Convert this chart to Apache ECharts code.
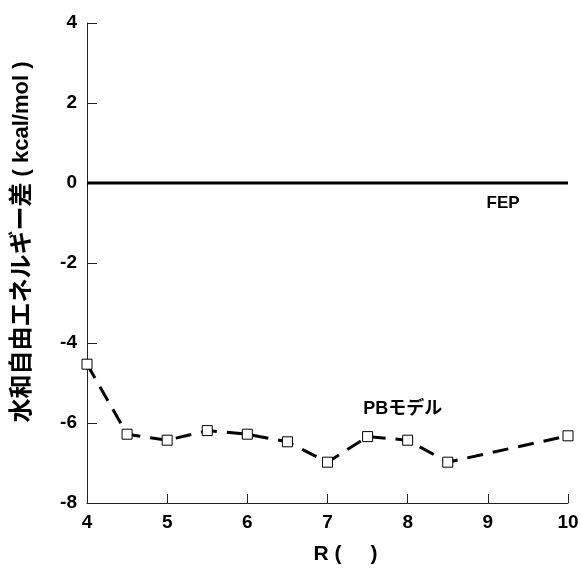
<!DOCTYPE html>
<html>
<head>
<meta charset="utf-8">
<script src="https://cdn.jsdelivr.net/npm/echarts@6/dist/echarts.min.js"></script>
<style>
  html, body { margin: 0; padding: 0; background: #fff; }
  #main { width: 582px; height: 569px; }
</style>
</head>
<body>
<div id="main"></div>
<script>
// R values and PB model energies
const rValues = [4, 4.5, 5, 5.5, 6, 6.5, 7, 7.5, 8, 8.5, 10];
const pbValues = [-4.53, -6.28, -6.43, -6.19, -6.28, -6.47, -6.98, -6.34, -6.43, -6.98, -6.32];
const fepR = [4, 10];
const fepValues = [0, 0];

const font = '"Liberation Sans", "Noto Sans CJK JP", sans-serif';

const chart = echarts.init(document.getElementById('main'));
chart.setOption({
  animation: false,
  backgroundColor: '#fff',
  grid: { left: 87, right: 14, top: 23, bottom: 66, outerBoundsMode: 'none', containLabel: false },
  xAxis: {
    type: 'value',
    min: 4, max: 10, interval: 1,
    name: 'R (     )',
    nameLocation: 'middle',
    nameGap: 41,
    nameTextStyle: { color: '#000', fontSize: 21, fontWeight: 'bold', fontFamily: font, padding: [0, 0, 0, 36] },
    axisLine: { onZero: false, lineStyle: { color: '#222', width: 1 } },
    axisTick: { inside: true, length: 9, lineStyle: { color: '#222' } },
    axisLabel: { color: '#000', fontSize: 19, fontWeight: 'bold', fontFamily: font, margin: 10 },
    splitLine: { show: false }
  },
  yAxis: {
    type: 'value',
    min: -8, max: 4, interval: 2,
    name: '{j|水和自由エネルギー差}{l| ( kcal/mol )}',
    nameLocation: 'middle',
    nameGap: 53,
    nameTextStyle: {
      color: '#000', fontWeight: 'bold', fontFamily: font,
      padding: [0, 0, 0, 42],
      rich: {
        j: { fontSize: 24, fontWeight: 'bold', fontFamily: font, color: '#000' },
        l: { fontSize: 22, fontWeight: 'bold', fontFamily: font, color: '#000' }
      }
    },
    axisLine: { lineStyle: { color: '#222', width: 1 } },
    axisTick: { inside: true, length: 10, lineStyle: { color: '#222' } },
    axisLabel: { color: '#000', fontSize: 19, fontWeight: 'bold', fontFamily: font, margin: 10 },
    splitLine: { show: false }
  },
  series: [
    {
      name: 'FEP',
      type: 'line',
      data: fepR.map((r, i) => [r, fepValues[i]]),
      showSymbol: false,
      lineStyle: { color: '#000', width: 3 },
      markPoint: {
        symbol: 'circle',
        symbolSize: 1,
        itemStyle: { color: 'rgba(0,0,0,0)' },
        label: { show: true, position: 'inside', formatter: 'FEP', color: '#000', fontSize: 17, fontWeight: 'bold', fontFamily: font },
        data: [{ coord: [9.19, -0.5] }]
      }
    },
    {
      name: 'PBモデル',
      type: 'line',
      data: rValues.map((r, i) => [r, pbValues[i]]),
      symbol: 'rect',
      symbolSize: 10,
      itemStyle: { color: '#fff', borderColor: '#000', borderWidth: 1 },
      lineStyle: { color: '#000', width: 3, type: [16, 10] },
      markPoint: {
        symbol: 'circle',
        symbolSize: 1,
        itemStyle: { color: 'rgba(0,0,0,0)' },
        label: { show: true, position: 'inside', formatter: 'PBモデル', color: '#000', fontSize: 18, fontWeight: 'bold', fontFamily: font },
        data: [{ coord: [7.94, -5.65] }]
      },
      z: 3
    }
  ]
});
</script>
</body>
</html>
